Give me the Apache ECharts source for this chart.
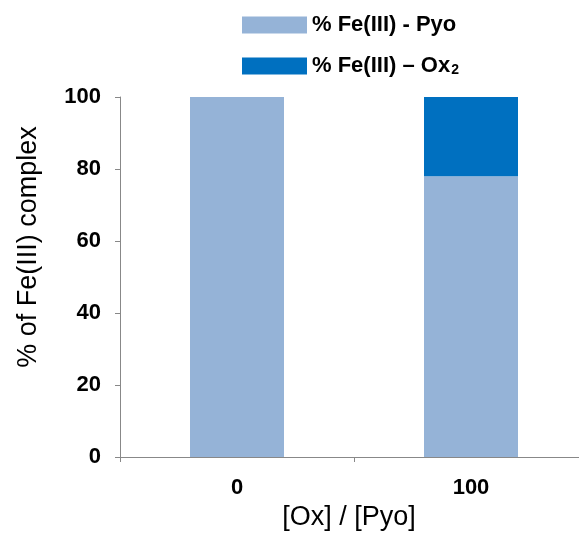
<!DOCTYPE html>
<html>
<head>
<meta charset="utf-8">
<script src="https://cdn.jsdelivr.net/npm/echarts@6/dist/echarts.min.js"></script>
<style>html,body{margin:0;padding:0;background:#fff}#c{width:579px;height:533px}</style>
</head>
<body>
<div id="c"></div>
<script>
var categories = ['0', '100'];
var pyoValues = [100, 78];
var oxValues = [0, 22];
var yTicks = [0, 20, 40, 60, 80, 100];
var seriesNames = ['% Fe(III) - Pyo', '% Fe(III) \u2013 Ox2'];

var chart = echarts.init(document.getElementById('c'));
var font = '"Liberation Sans", Arial, sans-serif';
chart.setOption({
  animation: false,
  backgroundColor: '#fff',
  legend: {
    orient: 'vertical',
    left: 237, top: 9,
    itemWidth: 65, itemHeight: 17, itemGap: 16,
    icon: 'rect',
    data: seriesNames,
    formatter: function (n) {
      if (n.indexOf('Ox2') >= 0) return '{a|% Fe(III) \u2013 Ox}{s|2}';
      return '{a|' + n + '}';
    },
    textStyle: {
      rich: {
        a: { fontFamily: font, fontWeight: 'bold', fontSize: 22, lineHeight: 22, color: '#000' },
        s: { fontFamily: font, fontWeight: 'bold', fontSize: 14, lineHeight: 22, color: '#000', verticalAlign: 'bottom', padding: [11, 0, 0, 1] }
      }
    }
  },
  grid: { left: 120, top: 97, height: 360, width: 468, containLabel: false, outerBoundsMode: 'none' },
  xAxis: {
    type: 'category',
    data: categories,
    name: '[Ox] / [Pyo]',
    nameLocation: 'middle',
    nameGap: 46,
    nameTextStyle: { fontFamily: font, fontSize: 27, color: '#000', padding: [0, 10, 0, 0] },
    axisLine: { lineStyle: { color: '#888', width: 1 } },
    axisTick: { show: true, length: 5, alignWithLabel: false, lineStyle: { color: '#888' } },
    axisLabel: { fontFamily: font, fontWeight: 'bold', fontSize: 22, color: '#000', margin: 20 }
  },
  yAxis: {
    type: 'value',
    min: 0, max: 100, interval: 20,
    name: '% of Fe(III) complex',
    nameLocation: 'middle',
    nameGap: 78,
    nameTextStyle: { fontFamily: font, fontSize: 27, color: '#000', padding: [0, 0, 0, 60] },
    axisLine: { show: true, lineStyle: { color: '#888', width: 1 } },
    axisTick: { show: true, length: 5, lineStyle: { color: '#888' } },
    splitLine: { show: false },
    axisLabel: {
      fontFamily: font, fontWeight: 'bold', fontSize: 22, color: '#000', margin: 19,
      formatter: function (v) { return yTicks.indexOf(v) >= 0 ? String(v) : ''; }
    }
  },
  series: [
    { name: seriesNames[0], type: 'bar', stack: 's', data: pyoValues, barWidth: 94, itemStyle: { color: '#95B3D7' } },
    { name: seriesNames[1], type: 'bar', stack: 's', data: oxValues, barWidth: 94, itemStyle: { color: '#0070C0' } }
  ]
});
</script>
</body>
</html>
